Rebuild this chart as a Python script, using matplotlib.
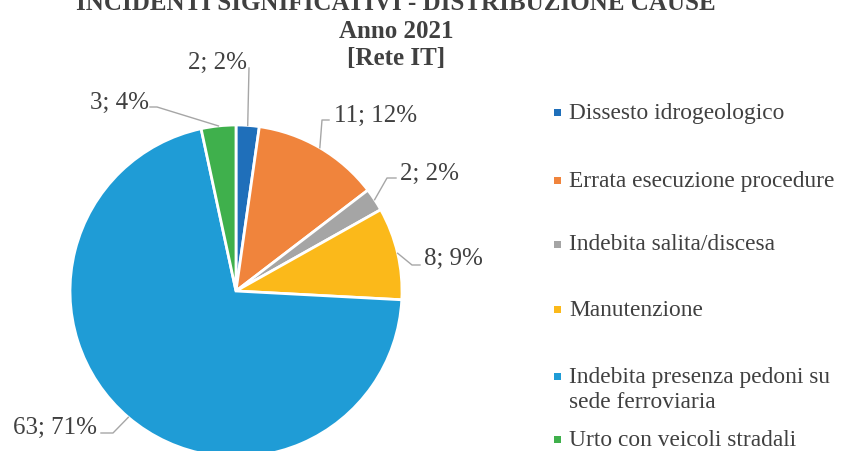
import matplotlib
matplotlib.use("Agg")
import matplotlib.pyplot as plt
from matplotlib.patches import Rectangle
import numpy as np

categories = ["Dissesto idrogeologico", "Errata esecuzione procedure",
              "Indebita salita/discesa", "Manutenzione",
              "Indebita presenza pedoni su\nsede ferroviaria",
              "Urto con veicoli stradali"]
values = [2, 11, 2, 8, 63, 3]
percent_labels = [2, 12, 2, 9, 71, 4]
colors = ["#1f6fba", "#f0843c", "#a5a5a5", "#fbb91a", "#1f9cd6", "#3fb04c"]
title_lines = ["INCIDENTI SIGNIFICATIVI - DISTRIBUZIONE CAUSE", "Anno 2021", "[Rete IT]"]

W, H = 842, 451
plt.rcParams['font.family'] = ['Liberation Serif', 'DejaVu Serif']
TXT = "#404040"
fig = plt.figure(figsize=(W / 100, H / 100), dpi=100)

cx, cy, R = 236, 291, 166
ax = fig.add_axes([(cx - R) / W, (H - cy - R) / H, 2 * R / W, 2 * R / H])

wedges, _ = ax.pie(values, colors=colors, startangle=90, counterclock=False,
                   radius=1, wedgeprops=dict(edgecolor='white', linewidth=2),
                   center=(0, 0))
ax.set_xlim(-1, 1)
ax.set_ylim(-1, 1)
ax.axis('off')
for w in wedges:
    w.set_clip_on(False)

def px(x, y):
    return ((x - cx) / R, (cy - y) / R)

# label layout: (text anchor px, ha, elbow points in px)
layout = [
    ((247, 63), 'right', [(249, 68)]),
    ((334, 116), 'left', [(322, 120), (329, 120)]),
    ((400, 174), 'left', [(387, 178), (396, 178)]),
    ((424, 259), 'left', [(412, 265), (420, 265)]),
    ((97, 428), 'right', [(113, 433), (101, 433)]),
    ((149, 103), 'right', [(157, 107), (150, 107)]),
]
for w, v, p, (tpos, ha, pts) in zip(wedges, values, percent_labels, layout):
    ang = np.deg2rad((w.theta1 + w.theta2) / 2)
    ex, ey = np.cos(ang), np.sin(ang)
    xs = [ex] + [px(*q)[0] for q in pts]
    ys = [ey] + [px(*q)[1] for q in pts]
    ax.plot(xs, ys, color="#a6a6a6", lw=1, clip_on=False)
    tx, ty = px(*tpos)
    ax.text(tx, ty, f"{v}; {p}%", ha=ha, va='center',
            fontsize=18, color=TXT, clip_on=False)

# title
fig.text(396 / W, 1 - 3 / H, title_lines[0], ha='center', va='center',
         fontsize=18, fontweight='bold', color=TXT)
fig.text(396 / W, 1 - 31 / H, title_lines[1], ha='center', va='center',
         fontsize=18, fontweight='bold', color=TXT)
fig.text(396 / W, 1 - 58 / H, title_lines[2], ha='center', va='center',
         fontsize=18, fontweight='bold', color=TXT)

# legend
leg_y = [112, 180, 244, 309, 389, 439]
for lab, col, y in zip(categories, colors, leg_y):
    my = y if '\n' not in lab else y - 13
    fig.add_artist(Rectangle((554 / W, 1 - (my + 3.5) / H), 7 / W, 7 / H,
                             facecolor=col, edgecolor='none',
                             transform=fig.transFigure))
    fig.text(569 / W, 1 - (y + 1) / H, lab, ha='left', va='center',
             fontsize=16.8, color=TXT, linespacing=1.3)

fig.savefig("out.png", dpi=100)
